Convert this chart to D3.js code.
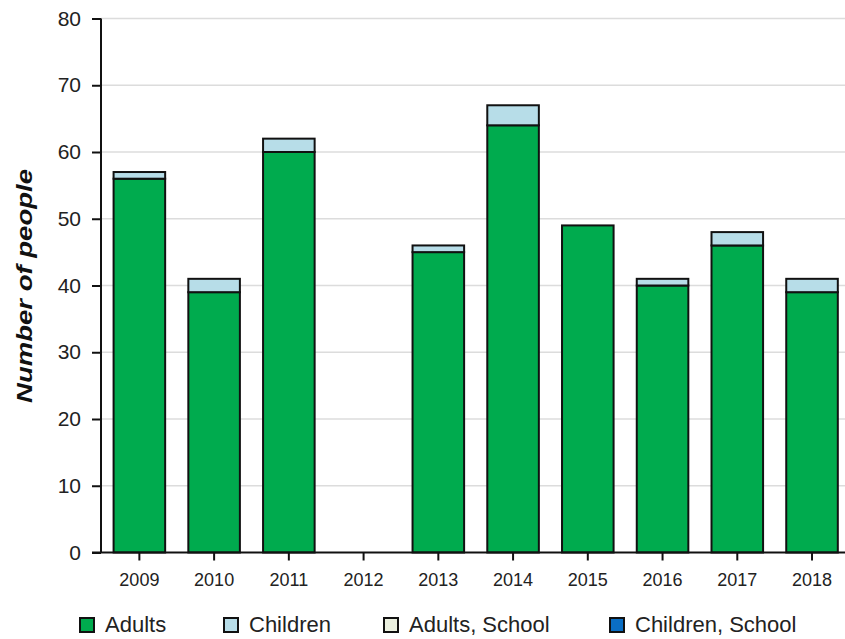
<!DOCTYPE html>
<html><head><meta charset="utf-8">
<script src="https://cdn.jsdelivr.net/npm/d3@7"></script>
<style>body{margin:0;background:#fff}svg{display:block;font-family:"Liberation Sans",Arial,sans-serif}</style>
</head><body><svg id="c" width="845" height="639"></svg>
<script>
const years = ["2009","2010","2011","2012","2013","2014","2015","2016","2017","2018"];
const adults = [56,39,60,0,45,64,49,40,46,39];
const children = [1,2,2,0,1,3,0,1,2,2];
const adultsSchool = [0,0,0,0,0,0,0,0,0,0];
const childrenSchool = [0,0,0,0,0,0,0,0,0,0];
const seriesNames = ["Adults","Children","Adults, School","Children, School"];
const seriesColors = ["#00ab4e","#b7dde8","#ebf0df","#0a6ec4"];
const yTicks = [0,10,20,30,40,50,60,70,80];

const svg = d3.select("#c");
const x = d3.scaleBand().domain(years).range([102,849.4]).paddingInner(0.31).paddingOuter(0.155);
const y = d3.scaleLinear().domain([0,80]).range([552.5,18.5]);

// gridlines
svg.append("g").selectAll("line").data(yTicks.filter(d=>d>0)).join("line")
  .attr("x1",101).attr("x2",845).attr("y1",d=>y(d)).attr("y2",d=>y(d))
  .attr("stroke","#dcdcdc").attr("stroke-width",1.5);

const table = years.map((yr,i)=>({year:yr,"Adults":adults[i],"Children":children[i],"Adults, School":adultsSchool[i],"Children, School":childrenSchool[i]}));
const stack = d3.stack().keys(seriesNames)(table);
const g = svg.append("g");
stack.forEach((s,si)=>{
  g.selectAll(null).data(s.filter(d=>d[1]-d[0]>0)).join("rect")
    .attr("x",d=>x(d.data.year)).attr("width",x.bandwidth())
    .attr("y",d=>y(d[1])).attr("height",d=>y(d[0])-y(d[1]))
    .attr("fill",seriesColors[si]).attr("stroke","#111").attr("stroke-width",2);
});

// y axis
const ya = svg.append("g").attr("transform","translate(101,0)")
  .call(d3.axisLeft(y).tickValues(yTicks).tickSize(9).tickPadding(11));
ya.select(".domain").attr("d","M0,18.5V552.5").attr("stroke","#111").attr("stroke-width",2);
ya.selectAll(".tick line").attr("stroke","#111").attr("stroke-width",2);
ya.selectAll("text").attr("font-size",21).attr("fill","#222").attr("font-family","Liberation Sans, Arial, sans-serif");

// x axis
const xa = svg.append("g").attr("transform","translate(0,552.5)")
  .call(d3.axisBottom(x).tickSize(8).tickPadding(13));
xa.select(".domain").attr("d","M92,0H845").attr("stroke","#111").attr("stroke-width",2);
xa.selectAll(".tick line").attr("stroke","#111").attr("stroke-width",2);
xa.selectAll("text").attr("font-size",18).attr("fill","#222").attr("font-family","Liberation Sans, Arial, sans-serif");

// y label
svg.append("text").attr("transform","translate(32,286) rotate(-90)")
  .attr("text-anchor","middle").attr("font-size",22).attr("font-weight","bold").attr("font-style","italic")
  .attr("textLength",234).attr("lengthAdjust","spacingAndGlyphs")
  .attr("fill","#111").text("Number of people");

// legend
const legX = [80,224,384,610];
const lg = svg.append("g");
seriesNames.forEach((n,i)=>{
  lg.append("rect").attr("x",legX[i]).attr("y",618).attr("width",14).attr("height",14)
    .attr("fill",seriesColors[i]).attr("stroke","#111").attr("stroke-width",2);
  lg.append("text").attr("x",legX[i]+25).attr("y",632).attr("font-size",22).attr("fill","#222").text(n);
});
</script></body></html>
